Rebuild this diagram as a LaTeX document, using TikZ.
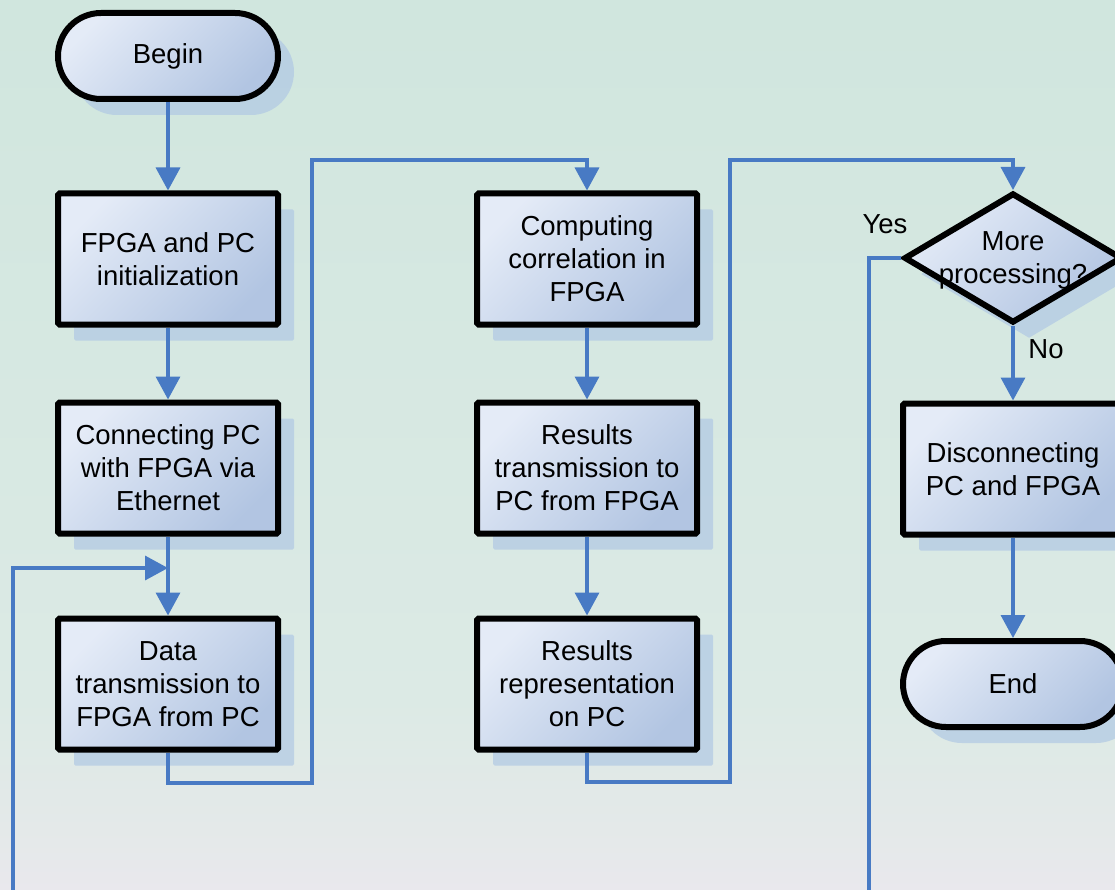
\documentclass[tikz,border=0pt]{standalone}
\usepackage{fontspec}
\newfontfamily\flowfont{Liberation Sans}
\usetikzlibrary{arrows.meta,shapes.geometric,shadows}

\definecolor{bgtop}{RGB}{208,230,222}
\definecolor{bgmid}{RGB}{220,234,229}
\definecolor{bglow}{RGB}{228,233,233}
\definecolor{bgbot}{RGB}{233,232,237}
\definecolor{nodelight}{RGB}{228,235,247}
\definecolor{nodedark}{RGB}{178,197,226}
\definecolor{shadowblue}{RGB}{176,200,228}
\definecolor{linkblue}{RGB}{72,122,196}

% soft vertical wash behind the chart
\pgfdeclareverticalshading{bgwash}{100bp}{%
  color(0bp)=(bgbot); color(25bp)=(bgbot); color(28.4bp)=(bglow);
  color(35.7bp)=(bgmid); color(75bp)=(bgtop); color(100bp)=(bgtop)}

\tikzset{
  txt/.style={font=\flowfont\fontsize{27.5}{33}\selectfont, align=center, inner sep=0pt},
  box/.style={txt, draw=black, line width=6pt, rounded corners=1.5pt,
    top color=nodelight, bottom color=nodedark, shading angle=45,
    minimum width=220pt, minimum height=131pt,
    drop shadow={shadow xshift=16pt, shadow yshift=-16pt, fill=shadowblue, opacity=0.7}},
  pill/.style={box, minimum height=86pt, rounded corners=43pt},
  decision/.style={diamond, draw=black, line width=6pt, inner sep=0pt,
    top color=nodelight, bottom color=nodedark, shading angle=45,
    minimum width=218pt, minimum height=130pt,
    drop shadow={shadow xshift=16pt, shadow yshift=-16pt, fill=shadowblue, opacity=0.7}},
  flow/.style={draw=linkblue, line width=3.5pt, -{Triangle[length=23pt,width=24pt]}}
}

\begin{document}
\begin{tikzpicture}[x=1pt,y=-1pt]
\useasboundingbox (0,0) rectangle (1115,890);
\clip (0,0) rectangle (1115,890);
\shade[shading=bgwash] (0,0) rectangle (1115,890);

% left column
\node[pill] (begin) at (168,56) {Begin};
\node[box] (init) at (168,259) {FPGA and PC\\initialization};
\node[box] (conn) at (168,468) {Connecting PC\\with FPGA via\\Ethernet};
\node[box] (data) at (168,684) {Data\\transmission to\\FPGA from PC};

% middle column
\node[box] (comp) at (587,259) {Computing\\correlation in\\FPGA};
\node[box] (rtx) at (587,468) {Results\\transmission to\\PC from FPGA};
\node[box] (rrep) at (587,684) {Results\\representation\\on PC};

% right column
\node[decision] (more) at (1013,258) {};
\node[txt] (moretext) at (1013,260) {More\\processing?};
\node[box] (disc) at (1013,469) {Disconnecting\\PC and FPGA};
\node[pill] (end) at (1013,684) {End};
\node[txt] (yes) at (885,224) {Yes};
\node[txt] (no) at (1046,349) {No};

% routing points
\coordinate (join) at (168,568);
\coordinate (d1) at (312,783);
\coordinate (d2) at (312,160);
\coordinate (r1) at (730,782);
\coordinate (r2) at (730,160);
\coordinate (yturn) at (869,258);
\coordinate (ydown) at (869,910);
\coordinate (lleft) at (13,910);
\coordinate (lup) at (13,568);

% connectors
\draw[flow] (begin.south) -- (init.north);
\draw[flow] (init.south) -- (conn.north);
\draw[flow] (conn.south) -- (data.north);
\draw[flow] (data.south) |- (d1) -- (d2) -| (comp.north);
\draw[flow] (comp.south) -- (rtx.north);
\draw[flow] (rtx.south) -- (rrep.north);
\draw[flow] (rrep.south) |- (r1) -- (r2) -| (more.north);
\draw[flow] (more.south) -- (disc.north);
\draw[flow] (disc.south) -- (end.north);
\draw[flow] (more.west) -- (yturn) -- (ydown) -- (lleft) -- (lup) -- (join);
\end{tikzpicture}
\end{document}
